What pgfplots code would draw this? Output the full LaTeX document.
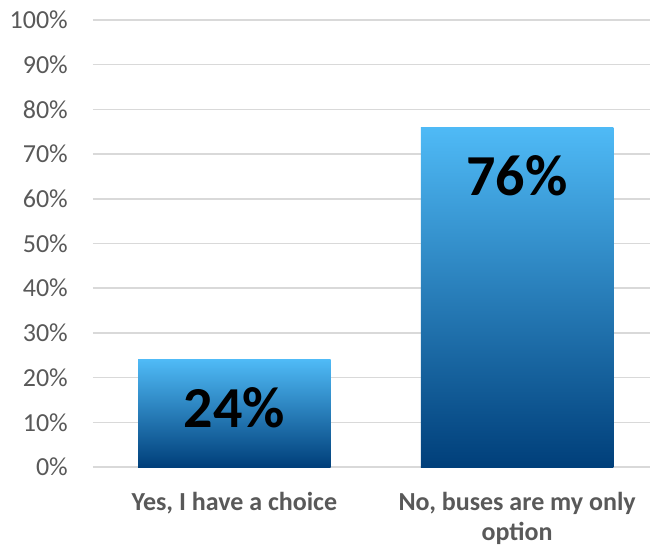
\documentclass[border=0pt]{standalone}
\usepackage{pgfplots}
\pgfplotsset{compat=1.18}
\usepackage{fontspec}
\setmainfont{Carlito}
\definecolor{tickgray}{HTML}{595959}
\definecolor{gridgray}{HTML}{D9D9D9}
\definecolor{bartop}{HTML}{4FBAF6}
\definecolor{barbot}{HTML}{003F7A}
\begin{document}
\begin{tikzpicture}
\begin{axis}[name=ax, at={(0,0)}, anchor=south west,
  scale only axis, width=557pt, height=447pt,
  xmin=-0.5, xmax=1.47, ymin=0, ymax=100,
  ytick={0,10,20,30,40,50,60,70,80,90,100},
  yticklabels={0\%,10\%,20\%,30\%,40\%,50\%,60\%,70\%,80\%,90\%,100\%},
  ymajorgrids, grid style={gridgray, line width=1.5pt},
  axis line style={draw=none}, tick style={draw=none}, major tick length=0pt,
  xtick={0,1},
  xticklabels={{Yes, I have a choice},{No, buses are my only\\option}},
  xticklabel style={font=\fontsize{26}{30}\selectfont\bfseries, text=tickgray, align=center, anchor=north, inner sep=0pt, yshift=-25pt},
  yticklabel style={font=\fontsize{26}{32}\selectfont, text=tickgray, anchor=east, inner sep=0pt, xshift=-25pt},
  barstyle/.style={ybar, bar width=0.68, bar shift=0pt, draw=none, top color=bartop, bottom color=barbot,
    nodes near coords={\pgfmathprintnumber[fixed,precision=0,assume math mode=true]{\pgfplotspointmeta}\%},
    every node near coord/.append style={font=\fontsize{58}{60}\selectfont\bfseries, text=black, anchor=base, yshift=-68pt}},
]
\addplot[barstyle] coordinates {(0,24)};
\addplot[barstyle] coordinates {(1,76)};
\end{axis}
\pgfresetboundingbox
\path[use as bounding box] ([xshift=-93pt,yshift=-81pt]ax.south west) rectangle ([xshift=2pt,yshift=20pt]ax.north east);
\end{tikzpicture}
\end{document}
